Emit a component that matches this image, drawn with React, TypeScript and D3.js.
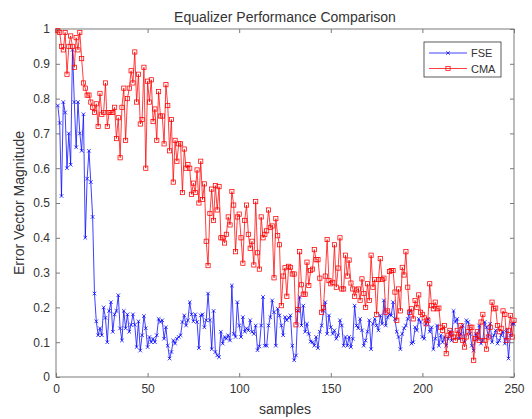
import React, { useRef, useEffect } from "react";
import * as d3 from "d3";

// FSE error vector magnitude, samples 1..250
const fseValues = [
  0.78, 0.73, 0.52, 0.79, 0.76, 0.6, 0.7, 0.61, 0.94, 0.79,
  0.66, 0.79, 0.7, 0.65, 0.755, 0.4, 0.57, 0.65, 0.56, 0.46,
  0.24, 0.16, 0.12, 0.14, 0.12, 0.2, 0.17, 0.1, 0.19, 0.215,
  0.13, 0.18, 0.19, 0.235, 0.14, 0.105, 0.19, 0.14, 0.18, 0.13,
  0.15, 0.18, 0.15, 0.086, 0.16, 0.076, 0.12, 0.175, 0.14, 0.086,
  0.115, 0.1, 0.11, 0.1, 0.12, 0.167, 0.158, 0.163, 0.11, 0.143,
  0.09, 0.053, 0.072, 0.105, 0.096, 0.11, 0.115, 0.12, 0.158, 0.177,
  0.148, 0.163, 0.215, 0.18, 0.16, 0.18, 0.158, 0.083, 0.177, 0.18,
  0.143, 0.163, 0.24, 0.163, 0.08, 0.19, 0.072, 0.062, 0.057, 0.13,
  0.096, 0.115, 0.11, 0.12, 0.105, 0.263, 0.124, 0.115, 0.215, 0.148,
  0.115, 0.172, 0.13, 0.14, 0.134, 0.163, 0.13, 0.124, 0.148, 0.077,
  0.088, 0.148, 0.23, 0.09, 0.09, 0.148, 0.172, 0.22, 0.186, 0.09,
  0.196, 0.177, 0.148, 0.12, 0.172, 0.163, 0.17, 0.177, 0.09, 0.048,
  0.062, 0.19, 0.23, 0.148, 0.205, 0.13, 0.153, 0.124, 0.102, 0.1,
  0.09, 0.115, 0.083, 0.13, 0.148, 0.19, 0.215, 0.124, 0.177, 0.143,
  0.124, 0.134, 0.11, 0.12, 0.163, 0.148, 0.09, 0.115, 0.09, 0.115,
  0.086, 0.11, 0.205, 0.148, 0.14, 0.167, 0.134, 0.09, 0.105, 0.13,
  0.163, 0.08, 0.153, 0.167, 0.148, 0.134, 0.177, 0.153, 0.22, 0.148,
  0.172, 0.18, 0.177, 0.215, 0.167, 0.13, 0.115, 0.08, 0.124, 0.14,
  0.148, 0.167, 0.19, 0.096, 0.1, 0.143, 0.134, 0.167, 0.158, 0.115,
  0.11, 0.153, 0.167, 0.13, 0.143, 0.08, 0.11, 0.148, 0.09, 0.12,
  0.1, 0.115, 0.09, 0.11, 0.13, 0.105, 0.19, 0.158, 0.167, 0.11,
  0.124, 0.148, 0.1, 0.163, 0.158, 0.124, 0.09, 0.076, 0.124, 0.11,
  0.148, 0.096, 0.105, 0.158, 0.143, 0.115, 0.153, 0.1, 0.12, 0.134,
  0.096, 0.105, 0.12, 0.13, 0.096, 0.134, 0.053, 0.12, 0.153, 0.153,
];

// CMA error vector magnitude, samples 1..250
const cmaValues = [
  0.995, 0.99, 0.95, 0.94, 0.99, 0.87, 0.95, 0.98, 0.95, 0.89,
  0.975, 0.94, 0.99, 0.915, 0.845, 0.83, 0.81, 0.81, 0.79, 0.775,
  0.76, 0.785, 0.72, 0.815, 0.755, 0.76, 0.845, 0.72, 0.76, 0.76,
  0.76, 0.775, 0.685, 0.745, 0.63, 0.775, 0.83, 0.68, 0.8, 0.83,
  0.88, 0.845, 0.934, 0.79, 0.87, 0.727, 0.74, 0.89, 0.6, 0.85,
  0.79, 0.854, 0.734, 0.77, 0.68, 0.82, 0.75, 0.75, 0.67, 0.84,
  0.78, 0.65, 0.74, 0.56, 0.68, 0.62, 0.67, 0.67, 0.53, 0.655,
  0.6, 0.61, 0.6, 0.525, 0.557, 0.53, 0.595, 0.5, 0.62, 0.51,
  0.555, 0.39, 0.32, 0.47, 0.54, 0.45, 0.55, 0.48, 0.547, 0.4,
  0.4, 0.385, 0.41, 0.46, 0.437, 0.533, 0.494, 0.36, 0.46, 0.468,
  0.4, 0.327, 0.45, 0.494, 0.41, 0.37, 0.39, 0.322, 0.504, 0.357,
  0.31, 0.46, 0.4, 0.41, 0.42, 0.48, 0.43, 0.434, 0.285, 0.455,
  0.406, 0.38, 0.205, 0.29, 0.314, 0.232, 0.318, 0.315, 0.296, 0.296,
  0.15, 0.194, 0.36, 0.265, 0.238, 0.238, 0.33, 0.263, 0.306, 0.31,
  0.366, 0.337, 0.337, 0.284, 0.186, 0.2, 0.29, 0.395, 0.277, 0.268,
  0.272, 0.38, 0.258, 0.313, 0.4, 0.253, 0.253, 0.35, 0.29, 0.336,
  0.27, 0.253, 0.232, 0.25, 0.253, 0.22, 0.282, 0.24, 0.2, 0.268,
  0.22, 0.35, 0.258, 0.28, 0.18, 0.28, 0.34, 0.28, 0.284, 0.186,
  0.19, 0.303, 0.306, 0.306, 0.244, 0.163, 0.253, 0.19, 0.315, 0.293,
  0.36, 0.258, 0.186, 0.196, 0.167, 0.22, 0.2, 0.236, 0.186, 0.18,
  0.17, 0.153, 0.163, 0.268, 0.205, 0.196, 0.215, 0.196, 0.198, 0.143,
  0.134, 0.148, 0.067, 0.12, 0.134, 0.124, 0.115, 0.105, 0.134, 0.115,
  0.148, 0.105, 0.086, 0.115, 0.13, 0.143, 0.143, 0.048, 0.11, 0.13,
  0.105, 0.158, 0.18, 0.105, 0.08, 0.115, 0.143, 0.215, 0.196, 0.198,
  0.148, 0.13, 0.14, 0.19, 0.18, 0.105, 0.134, 0.177, 0.115, 0.163,
];

const xTicks = [0, 50, 100, 150, 200, 250];
const yTicks = [0, 0.1, 0.2, 0.3, 0.4, 0.5, 0.6, 0.7, 0.8, 0.9, 1];
const seriesNames = ["FSE", "CMA"];
const seriesColors = ["#0000ff", "#ff0000"];

const FONT = "'Liberation Sans', Arial, Helvetica, sans-serif";
const TEXT = "#333333";
const AXIS = "#7a7a7a";

const App = () => {
  const svgRef = useRef<SVGSVGElement>(null);

  useEffect(() => {
    const width = 532;
    const height = 419;
    const margin = { top: 29, right: 18, bottom: 42, left: 56 };

    const svg = d3.select(svgRef.current);
    svg.selectAll("*").remove();

    const x = d3
      .scaleLinear()
      .domain([0, 250])
      .range([margin.left, width - margin.right]);
    const y = d3
      .scaleLinear()
      .domain([0, 1])
      .range([height - margin.bottom, margin.top]);

    svg
      .append("rect")
      .attr("width", width)
      .attr("height", height)
      .attr("fill", "#fff");

    // axes (ticks point inward, box on)
    const styleAxis = (g: any) => {
      g.attr("font-family", FONT).attr("font-size", 12);
      g.select(".domain").remove();
      g.selectAll(".tick line").attr("stroke", AXIS).attr("stroke-width", 1);
      g.selectAll(".tick text").attr("fill", TEXT);
    };

    svg
      .append("g")
      .attr("transform", `translate(0,${height - margin.bottom})`)
      .call(d3.axisBottom(x).tickValues(xTicks).tickSize(-4).tickPadding(7))
      .call(styleAxis);
    svg
      .append("g")
      .attr("transform", `translate(0,${margin.top})`)
      .call(d3.axisTop(x).tickValues(xTicks).tickSize(-4).tickFormat(() => ""))
      .call(styleAxis);
    svg
      .append("g")
      .attr("transform", `translate(${margin.left},0)`)
      .call(
        d3
          .axisLeft(y)
          .tickValues(yTicks)
          .tickSize(-4)
          .tickPadding(6)
          .tickFormat(d3.format("~g"))
      )
      .call(styleAxis);
    svg
      .append("g")
      .attr("transform", `translate(${width - margin.right},0)`)
      .call(d3.axisRight(y).tickValues(yTicks).tickSize(-4).tickFormat(() => ""))
      .call(styleAxis);

    svg
      .append("rect")
      .attr("x", margin.left)
      .attr("y", margin.top)
      .attr("width", width - margin.left - margin.right)
      .attr("height", height - margin.top - margin.bottom)
      .attr("fill", "none")
      .attr("stroke", AXIS)
      .attr("stroke-width", 1);

    const line = d3
      .line<number>()
      .x((_, i) => x(i + 1))
      .y((d) => y(d));

    // FSE: blue line with x markers
    svg
      .append("path")
      .datum(fseValues)
      .attr("fill", "none")
      .attr("stroke", seriesColors[0])
      .attr("stroke-width", 0.75)
      .attr("d", line);

    const cross = (g: any, cx: number, cy: number, color: string) => {
      const r = 1.8;
      g.append("path")
        .attr("d", `M${cx - r},${cy - r}L${cx + r},${cy + r}M${cx - r},${cy + r}L${cx + r},${cy - r}`)
        .attr("stroke", color)
        .attr("stroke-width", 0.75)
        .attr("fill", "none");
    };
    const square = (g: any, cx: number, cy: number, color: string) => {
      const r = 2.1;
      g.append("rect")
        .attr("x", cx - r)
        .attr("y", cy - r)
        .attr("width", 2 * r)
        .attr("height", 2 * r)
        .attr("fill", "none")
        .attr("stroke", color)
        .attr("stroke-width", 0.75);
    };

    const fseMarks = svg.append("g");
    fseValues.forEach((d, i) => cross(fseMarks, x(i + 1), y(d), seriesColors[0]));

    // CMA: red line with square markers
    svg
      .append("path")
      .datum(cmaValues)
      .attr("fill", "none")
      .attr("stroke", seriesColors[1])
      .attr("stroke-width", 0.75)
      .attr("d", line);

    const cmaMarks = svg.append("g");
    cmaValues.forEach((d, i) => square(cmaMarks, x(i + 1), y(d), seriesColors[1]));

    // title and labels
    svg
      .append("text")
      .attr("x", (margin.left + width - margin.right) / 2)
      .attr("y", 22)
      .attr("text-anchor", "middle")
      .attr("font-family", FONT)
      .attr("font-size", 14)
      .attr("fill", TEXT)
      .text("Equalizer Performance Comparison");

    svg
      .append("text")
      .attr("x", (margin.left + width - margin.right) / 2)
      .attr("y", 414)
      .attr("text-anchor", "middle")
      .attr("font-family", FONT)
      .attr("font-size", 14)
      .attr("fill", TEXT)
      .text("samples");

    svg
      .append("text")
      .attr("transform", `translate(24,${(margin.top + height - margin.bottom) / 2}) rotate(-90)`)
      .attr("text-anchor", "middle")
      .attr("font-family", FONT)
      .attr("font-size", 14)
      .attr("fill", TEXT)
      .text("Error Vector Magnitude");

    // legend
    const legend = svg.append("g");
    legend
      .append("rect")
      .attr("x", 424)
      .attr("y", 42)
      .attr("width", 77)
      .attr("height", 35)
      .attr("fill", "#fff")
      .attr("stroke", TEXT)
      .attr("stroke-width", 0.8);

    seriesNames.forEach((name, i) => {
      const ly = 53 + i * 15.5;
      legend
        .append("line")
        .attr("x1", 429)
        .attr("x2", 467)
        .attr("y1", ly)
        .attr("y2", ly)
        .attr("stroke", seriesColors[i])
        .attr("stroke-width", 0.75);
      if (i === 0) cross(legend, 448, ly, seriesColors[i]);
      else square(legend, 448, ly, seriesColors[i]);
      legend
        .append("text")
        .attr("x", 471)
        .attr("y", ly + 4)
        .attr("font-family", FONT)
        .attr("font-size", 11)
        .attr("fill", TEXT)
        .text(name);
    });
  }, []);

  return (
    <svg
      ref={svgRef}
      width={532}
      height={419}
      style={{ position: "absolute", left: 0, top: 0 }}
    ></svg>
  );
};

export default App;
